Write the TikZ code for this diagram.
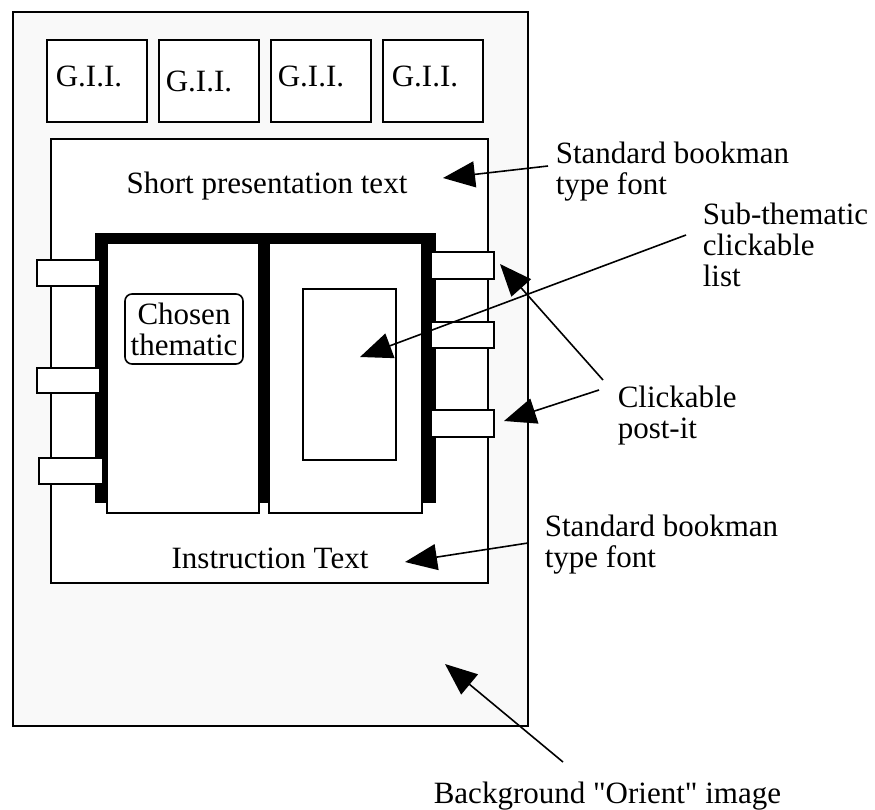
\documentclass[tikz,border=0pt]{standalone}
\usepackage{fontspec}
\setmainfont{Liberation Serif}[Ligatures=TeXOff]
\usetikzlibrary{arrows.meta}
\definecolor{pagegray}{RGB}{249,249,249}
\begin{document}
\begin{tikzpicture}[x=1pt,y=-1pt,line width=1.6pt,font=\fontsize{31}{31}\selectfont,
	lbl/.style={inner sep=0pt,align=left,anchor=north west},
	tab/.style={draw,fill=white},
	>={Triangle[length=32pt,width=26pt]}]
	\useasboundingbox (0,0) rectangle (875,809);
	\draw[fill=pagegray,line width=1.8pt] (13,12) rectangle (528,726);
	\foreach \a/\b in {47/147,159/259,271/371,383/483}
		\draw[fill=white] (\a,40) rectangle (\b,122);
	\node[inner sep=0pt,anchor=base west] (gii1) at (55,86) {G.I.I.};
	\node[inner sep=0pt,anchor=base west] (gii2) at (165,91) {G.I.I.};
	\node[inner sep=0pt,anchor=base west] (gii3) at (277,86) {G.I.I.};
	\node[inner sep=0pt,anchor=base west] (gii4) at (391,86) {G.I.I.};
	\draw[fill=white] (51,139) rectangle (488,583);
	\node[inner sep=0pt,anchor=base] (short) at (267,193) {Short presentation text};
	\node[inner sep=0pt,anchor=base] (instr) at (270,568) {Instruction Text};
	\fill (95,233) rectangle (436,503);
	\draw[fill=white] (107,243) rectangle (259,513) (269,243) rectangle (422,513);
	\draw[fill=white] (303,289) rectangle (396,460);
	\node[draw,fill=white,rounded corners=7pt,minimum width=118pt,minimum height=70pt,align=center,inner sep=0pt] (chosen) at (184,329) {Chosen\\thematic};
	\draw[tab] (37,260) rectangle (100,286) (37,368) rectangle (100,393) (39,458) rectangle (103,484);
	\draw[tab] (431,252) rectangle (494,279) (431,322) rectangle (494,348) (431,410) rectangle (494,437);
	\node[lbl] (stdA) at (555,141) {Standard bookman\\type font};
	\node[lbl] (subth) at (702,202) {Sub-thematic\\clickable\\list};
	\node[lbl] (click) at (617,385) {Clickable\\post-it};
	\node[lbl] (stdB) at (544,514) {Standard bookman\\type font};
	\node[lbl] (bgimg) at (433,781) {Background "Orient" image};
	\coordinate (sA) at (548,166); \coordinate (tA) at (443,178);
	\coordinate (sS) at (686,235); \coordinate (tS) at (360,357);
	\coordinate (sC1) at (603,380); \coordinate (tC1) at (500,264);
	\coordinate (sC2) at (599,390); \coordinate (tC2) at (504,421);
	\coordinate (sB) at (528,543); \coordinate (tB) at (405,562);
	\coordinate (sG) at (563,762); \coordinate (tG) at (445,664);
	\draw[->] (sA)--(tA);
	\draw[->] (sS)--(tS);
	\draw[->] (sC1)--(tC1);
	\draw[->] (sC2)--(tC2);
	\draw[->] (sB)--(tB);
	\draw[->] (sG)--(tG);
\end{tikzpicture}
\end{document}
